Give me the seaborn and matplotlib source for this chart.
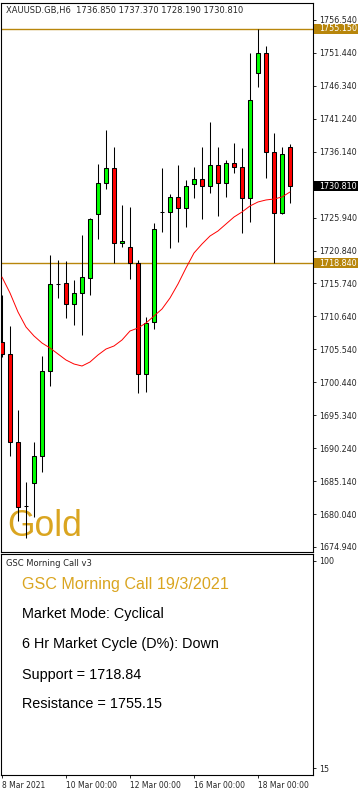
import numpy as np
import pandas as pd
import seaborn as sns
import matplotlib.pyplot as plt
from matplotlib.patches import Rectangle

# XAUUSD H6 candles, 8 Mar 2021 00:00 .. 19 Mar 2021 00:00
opens = [1706.68, 1704.77, 1691.24, 1681.30, 1684.80, 1689.03, 1702.19, 1715.66, 1715.77, 1712.56,
         1714.22, 1716.54, 1726.50, 1731.25, 1733.58, 1721.96, 1721.34, 1718.86, 1701.68, 1709.73,
         1726.81, 1726.76, 1729.09, 1727.38, 1731.10, 1731.87, 1730.83, 1734.09, 1731.25, 1734.35,
         1733.73, 1728.93, 1748.29, 1751.38, 1736.05, 1726.61, 1736.85]
highs = [1713.96, 1709.16, 1696.15, 1685.05, 1691.15, 1704.51, 1720.15, 1719.38, 1719.22, 1716.28,
         1723.25, 1725.88, 1734.24, 1739.51, 1736.92, 1727.89, 1727.54, 1719.38, 1710.50, 1725.06,
         1733.58, 1729.60, 1734.09, 1731.76, 1733.73, 1736.92, 1740.70, 1736.92, 1734.86, 1737.54,
         1736.77, 1751.38, 1755.15, 1752.51, 1739.09, 1736.92, 1737.37]
lows = [1704.36, 1689.07, 1678.96, 1676.28, 1679.63, 1686.59, 1699.86, 1713.44, 1710.35, 1709.31,
        1707.76, 1713.96, 1722.67, 1730.32, 1718.90, 1721.34, 1716.43, 1698.73, 1698.98, 1708.69,
        1723.76, 1721.19, 1722.21, 1724.53, 1729.02, 1725.68, 1729.80, 1726.19, 1729.18, 1732.89,
        1723.60, 1725.31, 1746.21, 1732.12, 1718.84, 1726.45, 1728.19]
closes = [1704.82, 1691.24, 1681.17, 1681.30, 1689.03, 1702.19, 1715.61, 1715.66, 1712.56, 1714.22,
          1716.70, 1725.72, 1731.30, 1733.58, 1721.96, 1722.36, 1718.86, 1701.68, 1709.67, 1724.13,
          1726.81, 1729.09, 1727.38, 1730.88, 1731.87, 1730.83, 1734.09, 1731.25, 1734.35, 1733.73,
          1728.93, 1744.15, 1751.38, 1736.05, 1726.61, 1735.74, 1730.81]
ma = [1716.74, 1714.27, 1711.32, 1709.00, 1707.61, 1706.52, 1705.75, 1704.82, 1703.89, 1703.27,
      1702.96, 1703.58, 1704.67, 1705.59, 1706.06, 1706.99, 1708.38, 1708.85, 1709.62, 1710.70,
      1711.79, 1713.49, 1715.66, 1718.14, 1720.46, 1721.85, 1723.09, 1723.87, 1724.95, 1726.03,
      1726.81, 1727.74, 1728.36, 1728.67, 1728.82, 1729.13, 1729.91]

support = 1718.84
resistance = 1755.15
last_price = 1730.81
title = "XAUUSD.GB,H6  1736.850 1737.370 1728.190 1730.810"
date_ticks = [0, 8, 16, 24, 32]
date_labels = ["8 Mar 2021", "10 Mar 00:00", "12 Mar 00:00", "16 Mar 00:00", "18 Mar 00:00"]
price_ticks = [1674.94 + 5.1 * k for k in range(17)]
info_lines = ["Market Mode: Cyclical", "6 Hr Market Cycle (D%): Down",
              "Support = 1718.84", "Resistance = 1755.15"]

sns.set_style("white")
plt.rcParams['font.family'] = ['DejaVu Sans']

W, H = 361, 792
fig = plt.figure(figsize=(W / 100, H / 100), dpi=100)


def box(l, t, r, b):
    return [l / W, 1 - b / H, (r - l) / W, (b - t) / H]


ax = fig.add_axes(box(1, 3, 313, 552))
ax2 = fig.add_axes(box(1, 554, 313, 775))

df = pd.DataFrame({'i': range(len(opens)), 'open': opens, 'high': highs,
                   'low': lows, 'close': closes, 'ma': ma})
up = df['close'] >= df['open']

ax.vlines(df['i'], df['low'], df['high'], color='black', lw=0.75, zorder=2)
ax.bar(df['i'], (df['close'] - df['open']).abs(), bottom=np.minimum(df['open'], df['close']),
       width=0.6, color=np.where(up, '#00FF00', '#FF0000'), edgecolor='black',
       linewidth=0.75, zorder=3)
sns.lineplot(data=df, x='i', y='ma', color='#FF0000', lw=0.7, ax=ax, zorder=4, legend=False)

# support / resistance levels
ax.axhline(resistance, color='#B8860B', lw=1.0, zorder=1.5)
ax.axhline(support, color='#B8860B', lw=1.0, zorder=1.5)

ax.text(6 / 312, 16 / 549, "Gold", transform=ax.transAxes, fontsize=25.6,
        family='Liberation Sans', color='#DAA520', va='baseline', zorder=1)

ax.set_xlim(-0.125, 38.875)
ax.set_ylim(1674.16, 1759.17)
ax.set_xticks([])
ax.yaxis.tick_right()
ax.set_yticks(price_ticks)
ax.set_yticklabels([f"{v:.3f}" for v in price_ticks])
ax.tick_params(axis='y', right=True, left=False, direction='out', length=2.2, width=0.7,
               pad=2, labelsize=5.8)
ax.set_xlabel('')
ax.set_ylabel('')

# highlighted price labels on the right axis
trans = ax.get_yaxis_transform()
for price, fc in [(resistance, '#B8860B'), (last_price, 'black'), (support, '#B8860B')]:
    ax.add_patch(Rectangle((313 / 312, price - 0.78), 44 / 312, 1.56, transform=trans,
                           fc=fc, ec='none', clip_on=False, zorder=5))
    ax.text(318 / 312, price, f"{price:.3f}", transform=trans, ha='left', va='center',
            fontsize=5.8, color='white', clip_on=False, zorder=6)

# indicator panel
ax2.set_xlim(-0.125, 38.875)
ax2.set_ylim(12.26, 102.74)
ax2.yaxis.tick_right()
ax2.set_yticks([100, 15])
ax2.set_yticklabels(["100", "15"])
ax2.set_xticks(date_ticks)
ax2.set_xticklabels(date_labels, ha='left')
ax2.tick_params(axis='y', right=True, left=False, direction='out', length=2.2, width=0.7,
                pad=2, labelsize=5.8)
ax2.tick_params(axis='x', bottom=True, direction='out', length=2.2, width=0.7,
                pad=2, labelsize=5.5)

for a in (ax, ax2):
    for s in a.spines.values():
        s.set_color('black')
        s.set_linewidth(0.8)

fig.text(6 / W, 1 - 10 / H, title, fontsize=6, va='center')
fig.text(6 / W, 1 - 566 / H, "GSC Morning Call v3", fontsize=6, va='baseline')
fig.text(22 / W, 1 - 589 / H, "GSC Morning Call 19/3/2021", fontsize=11.6,
         family='Liberation Sans', color='#DAA520', va='baseline')
for line, base in zip(info_lines, [618, 648, 679, 708]):
    fig.text(22 / W, 1 - base / H, line, fontsize=10.4, family='Liberation Sans',
             color='black', va='baseline')

fig.savefig('out.png', dpi=100, facecolor='white')
